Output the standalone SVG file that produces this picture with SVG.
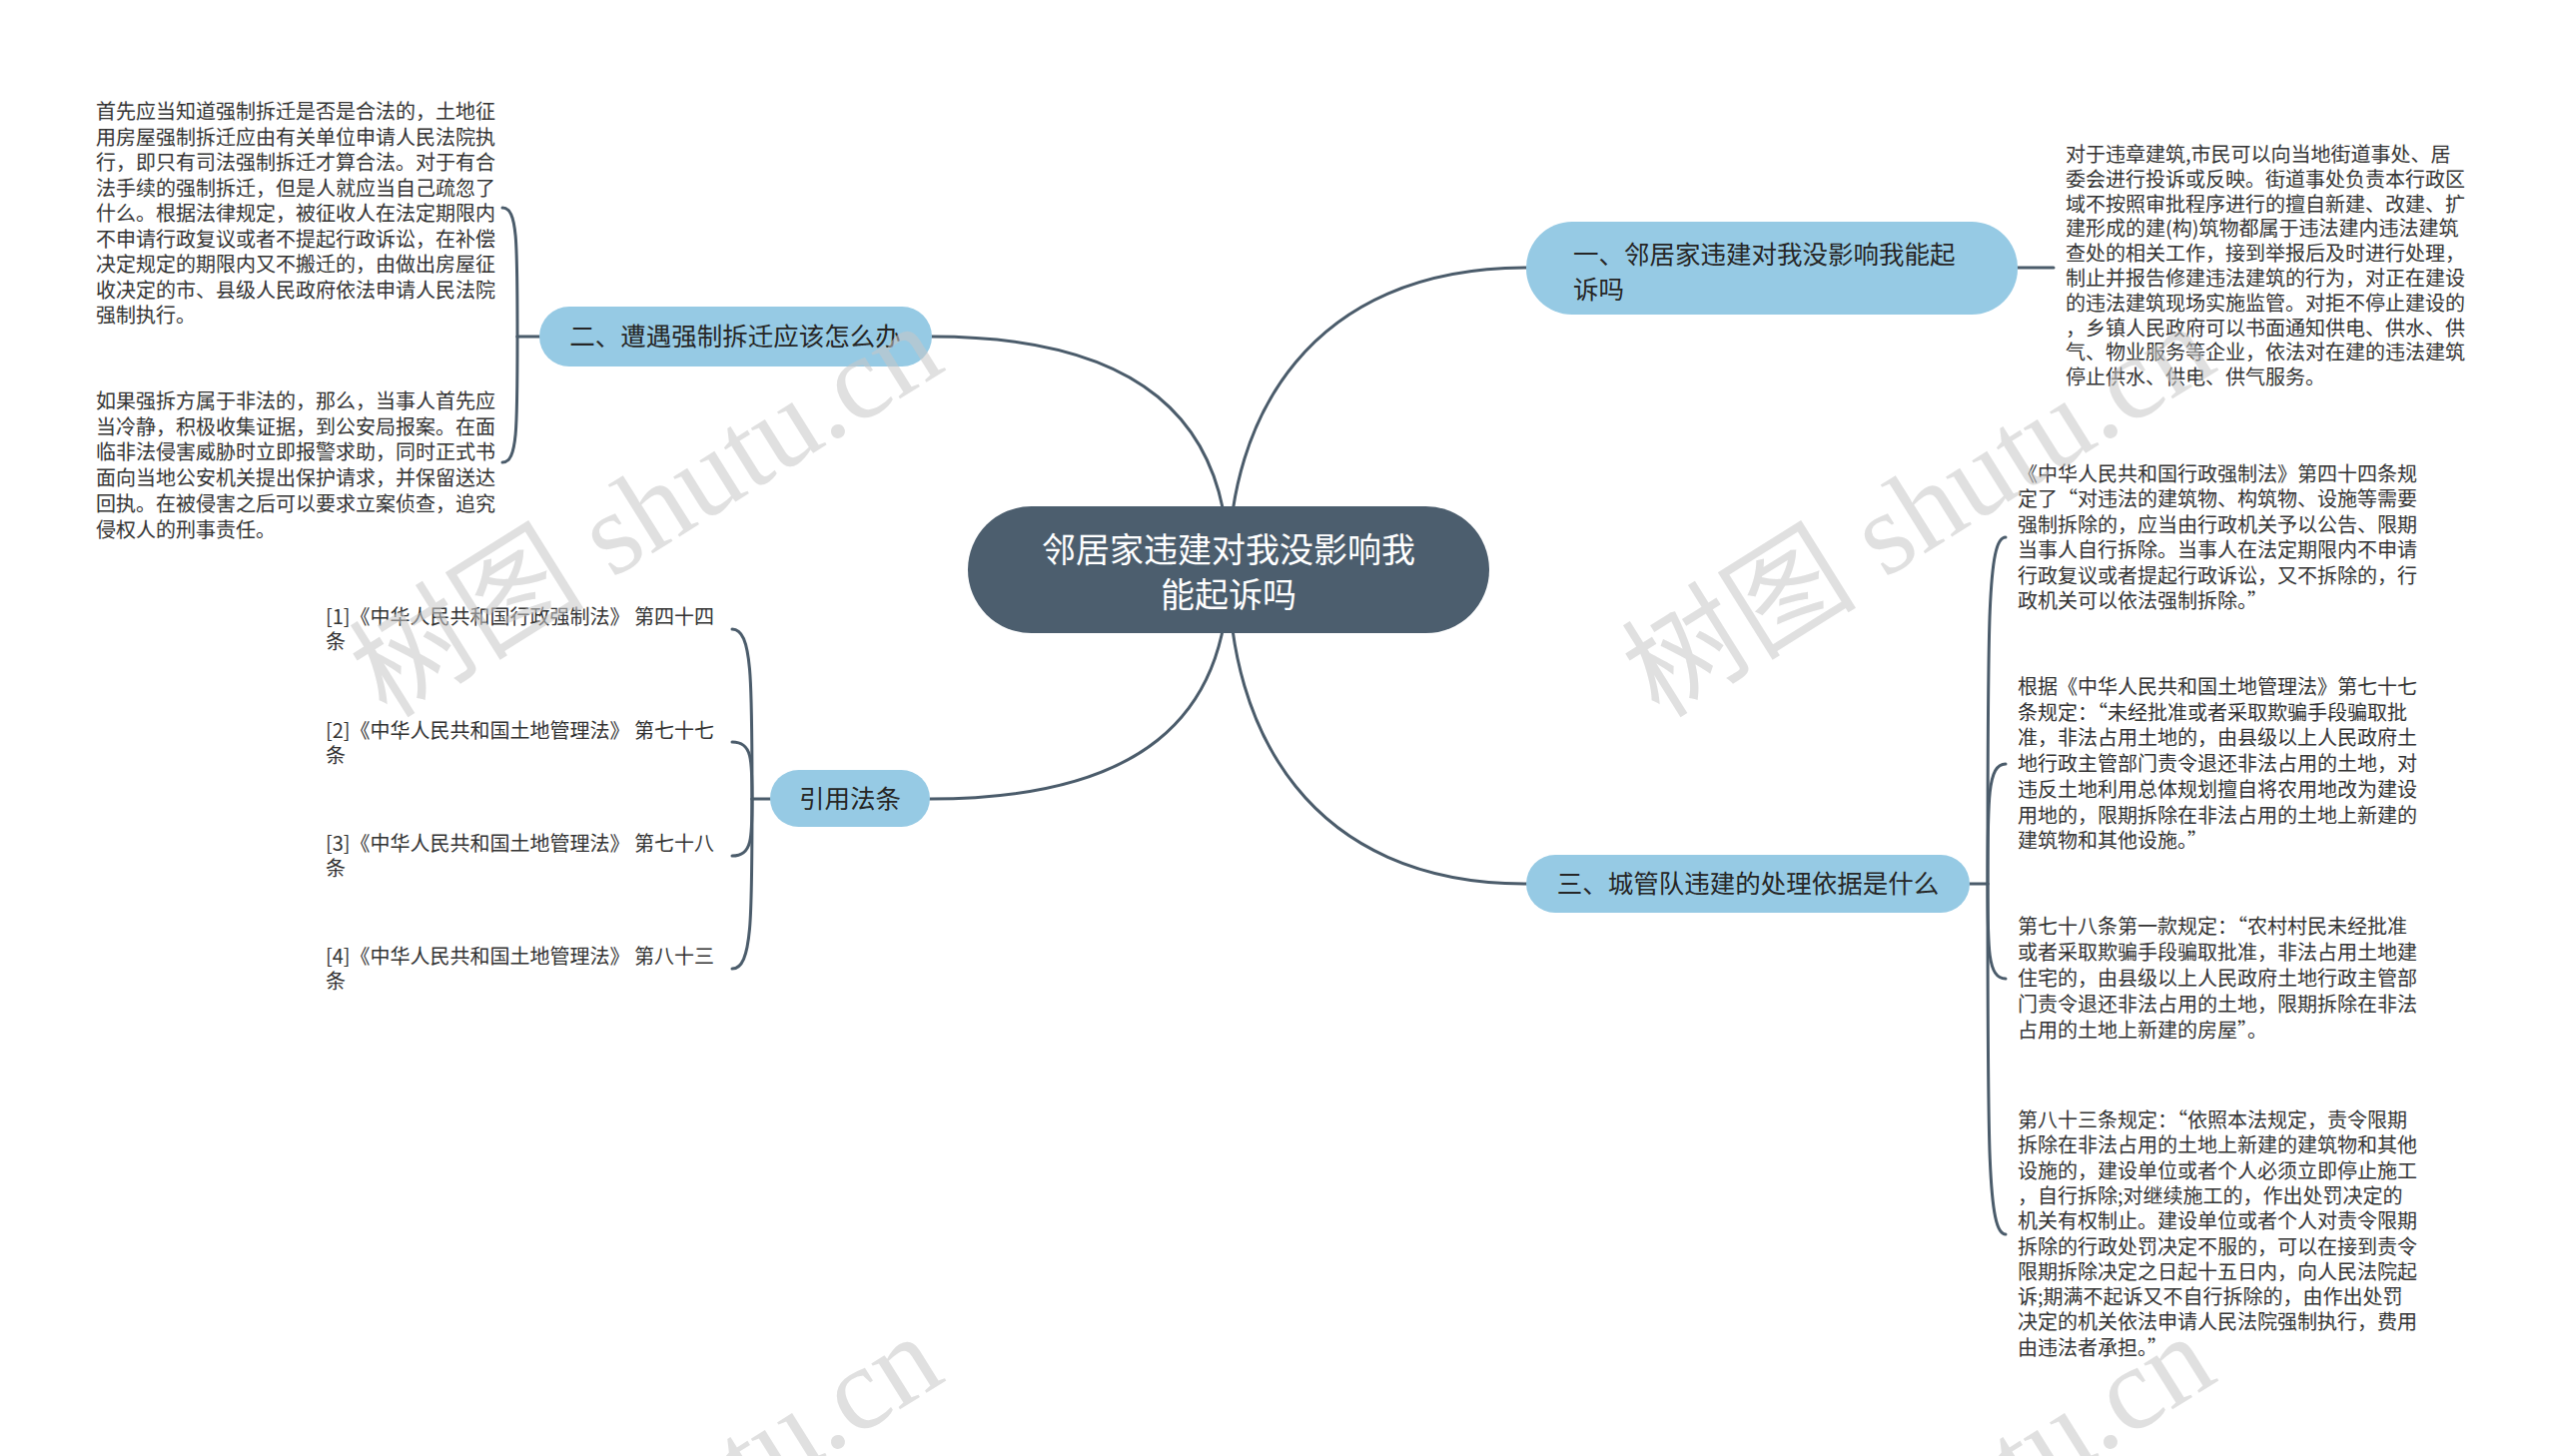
<svg xmlns="http://www.w3.org/2000/svg" width="2560" height="1458" viewBox="0 0 2560 1458">
<style>
.bg{fill:#ffffff}
.edge{fill:none;stroke:#4b5c6b;stroke-width:3;stroke-linecap:round}
.root{fill:#4c5e6e}
.sub{fill:#96cae4}
.rt{font-family:"Noto Sans CJK SC","Noto Sans",sans-serif;font-size:34px;fill:#ffffff;text-anchor:middle}
.st{font-family:"Noto Sans CJK SC","Noto Sans",sans-serif;font-size:25.5px;fill:#262626}
.stc{text-anchor:middle}
.bt{font-family:"Noto Sans CJK SC","Noto Sans",sans-serif;font-size:20px;fill:#333333}
.wm{font-family:"Liberation Serif","Noto Sans CJK SC",serif;font-size:118px;fill:#c8c8c8;opacity:0.55}
</style>
<rect class="bg" x="0" y="0" width="2560" height="1458"/>

<g id="connectors">
  <path class="edge" d="M933,337 C1140,337 1230,420 1230,570"/>
  <path class="edge" d="M1528,268 C1310,268 1230,420 1230,570"/>
  <path class="edge" d="M931,800 C1140,800 1230,720 1230,570"/>
  <path class="edge" d="M1528,885 C1310,885 1230,730 1230,570"/>
  <!-- 二 children -->
  <path class="edge" d="M540,337 L518,337"/>
  <path class="edge" d="M518,337 C518,240 518,208 503,208"/>
  <path class="edge" d="M518,337 C518,430 518,463 503,463"/>
  <!-- 一 child -->
  <path class="edge" d="M2020,268 L2056,268"/>
  <!-- 引用法条 children -->
  <path class="edge" d="M771,800 L753,800"/>
  <path class="edge" d="M753,800 C753,680 753,630 733,630"/>
  <path class="edge" d="M753,800 C753,760 753,743 733,743"/>
  <path class="edge" d="M753,800 C753,840 753,857 733,857"/>
  <path class="edge" d="M753,800 C753,920 753,970 733,970"/>
  <!-- 三 children -->
  <path class="edge" d="M1972,885 L1990,885"/>
  <path class="edge" d="M1990,885 C1990,620 1990,538 2008,538"/>
  <path class="edge" d="M1990,885 C1990,800 1990,765 2008,765"/>
  <path class="edge" d="M1990,885 C1990,950 1990,980 2008,980"/>
  <path class="edge" d="M1990,885 C1990,1150 1990,1236 2008,1236"/>
</g>

<g id="root">
  <rect class="root" x="969" y="507" width="522" height="127" rx="63.5"/>
  <text class="rt" x="1230" y="563">邻居家违建对我没影响我</text>
  <text class="rt" x="1230" y="608">能起诉吗</text>
</g>

<g id="node-1">
  <rect class="sub" x="1528" y="222" width="492" height="93" rx="46"/>
  <text class="st" x="1575" y="264">一、邻居家违建对我没影响我能起</text>
  <text class="st" x="1575" y="299">诉吗</text>
</g>

<g id="node-2">
  <rect class="sub" x="540" y="307" width="393" height="60" rx="30"/>
  <text class="st stc" x="736" y="346">二、遭遇强制拆迁应该怎么办</text>
</g>

<g id="node-3">
  <rect class="sub" x="1528" y="856" width="444" height="58" rx="29"/>
  <text class="st stc" x="1750" y="894">三、城管队违建的处理依据是什么</text>
</g>

<g id="node-cite">
  <rect class="sub" x="771" y="771" width="160" height="57" rx="28.5"/>
  <text class="st stc" x="851" y="809">引用法条</text>
</g>

<g id="text-2a" class="bt">
  <text x="96" y="119">首先应当知道强制拆迁是否是合法的，土地征</text>
  <text x="96" y="144.5">用房屋强制拆迁应由有关单位申请人民法院执</text>
  <text x="96" y="170">行，即只有司法强制拆迁才算合法。对于有合</text>
  <text x="96" y="195.5">法手续的强制拆迁，但是人就应当自己疏忽了</text>
  <text x="96" y="221">什么。根据法律规定，被征收人在法定期限内</text>
  <text x="96" y="246.5">不申请行政复议或者不提起行政诉讼，在补偿</text>
  <text x="96" y="272">决定规定的期限内又不搬迁的，由做出房屋征</text>
  <text x="96" y="297.5">收决定的市、县级人民政府依法申请人民法院</text>
  <text x="96" y="323">强制执行。</text>
</g>

<g id="text-2b" class="bt">
  <text x="96" y="409">如果强拆方属于非法的，那么，当事人首先应</text>
  <text x="96" y="434.7">当冷静，积极收集证据，到公安局报案。在面</text>
  <text x="96" y="460.4">临非法侵害威胁时立即报警求助，同时正式书</text>
  <text x="96" y="486.1">面向当地公安机关提出保护请求，并保留送达</text>
  <text x="96" y="511.8">回执。在被侵害之后可以要求立案侦查，追究</text>
  <text x="96" y="537.5">侵权人的刑事责任。</text>
</g>

<g id="text-1" class="bt">
  <text x="2068" y="162">对于违章建筑,市民可以向当地街道事处、居</text>
  <text x="2068" y="186.8">委会进行投诉或反映。街道事处负责本行政区</text>
  <text x="2068" y="211.6">域不按照审批程序进行的擅自新建、改建、扩</text>
  <text x="2068" y="236.4">建形成的建(构)筑物都属于违法建内违法建筑</text>
  <text x="2068" y="261.2">查处的相关工作，接到举报后及时进行处理，</text>
  <text x="2068" y="286">制止并报告修建违法建筑的行为，对正在建设</text>
  <text x="2068" y="310.8">的违法建筑现场实施监管。对拒不停止建设的</text>
  <text x="2068" y="335.6">，乡镇人民政府可以书面通知供电、供水、供</text>
  <text x="2068" y="360.4">气、物业服务等企业，依法对在建的违法建筑</text>
  <text x="2068" y="385.2">停止供水、供电、供气服务。</text>
</g>

<g id="text-3a" class="bt">
  <text x="2020" y="482">《中华人民共和国行政强制法》第四十四条规</text>
  <text x="2020" y="507.4">定了“对违法的建筑物、构筑物、设施等需要</text>
  <text x="2020" y="532.8">强制拆除的，应当由行政机关予以公告、限期</text>
  <text x="2020" y="558.2">当事人自行拆除。当事人在法定期限内不申请</text>
  <text x="2020" y="583.6">行政复议或者提起行政诉讼，又不拆除的，行</text>
  <text x="2020" y="609">政机关可以依法强制拆除。”</text>
</g>

<g id="text-3b" class="bt">
  <text x="2020" y="695">根据《中华人民共和国土地管理法》第七十七</text>
  <text x="2020" y="720.7">条规定：“未经批准或者采取欺骗手段骗取批</text>
  <text x="2020" y="746.4">准，非法占用土地的，由县级以上人民政府土</text>
  <text x="2020" y="772.1">地行政主管部门责令退还非法占用的土地，对</text>
  <text x="2020" y="797.8">违反土地利用总体规划擅自将农用地改为建设</text>
  <text x="2020" y="823.5">用地的，限期拆除在非法占用的土地上新建的</text>
  <text x="2020" y="849.2">建筑物和其他设施。”</text>
</g>

<g id="text-3c" class="bt">
  <text x="2020" y="935">第七十八条第一款规定：“农村村民未经批准</text>
  <text x="2020" y="961">或者采取欺骗手段骗取批准，非法占用土地建</text>
  <text x="2020" y="987">住宅的，由县级以上人民政府土地行政主管部</text>
  <text x="2020" y="1013">门责令退还非法占用的土地，限期拆除在非法</text>
  <text x="2020" y="1039">占用的土地上新建的房屋”。</text>
</g>

<g id="text-3d" class="bt">
  <text x="2020" y="1129">第八十三条规定：“依照本法规定，责令限期</text>
  <text x="2020" y="1154.3">拆除在非法占用的土地上新建的建筑物和其他</text>
  <text x="2020" y="1179.6">设施的，建设单位或者个人必须立即停止施工</text>
  <text x="2020" y="1204.9">，自行拆除;对继续施工的，作出处罚决定的</text>
  <text x="2020" y="1230.2">机关有权制止。建设单位或者个人对责令限期</text>
  <text x="2020" y="1255.5">拆除的行政处罚决定不服的，可以在接到责令</text>
  <text x="2020" y="1280.8">限期拆除决定之日起十五日内，向人民法院起</text>
  <text x="2020" y="1306.1">诉;期满不起诉又不自行拆除的，由作出处罚</text>
  <text x="2020" y="1331.4">决定的机关依法申请人民法院强制执行，费用</text>
  <text x="2020" y="1356.7">由违法者承担。”</text>
</g>

<g id="cite-1" class="bt">
  <text x="326" y="625">[1]《中华人民共和国行政强制法》 第四十四</text>
  <text x="326" y="650">条</text>
</g>
<g id="cite-2" class="bt">
  <text x="326" y="739">[2]《中华人民共和国土地管理法》 第七十七</text>
  <text x="326" y="764">条</text>
</g>
<g id="cite-3" class="bt">
  <text x="326" y="852">[3]《中华人民共和国土地管理法》 第七十八</text>
  <text x="326" y="877">条</text>
</g>
<g id="cite-4" class="bt">
  <text x="326" y="965">[4]《中华人民共和国土地管理法》 第八十三</text>
  <text x="326" y="990">条</text>
</g>

<g id="watermarks">
  <text class="wm" text-anchor="middle" transform="translate(668,545) rotate(-32)">树图 shutu.cn</text>
  <text class="wm" text-anchor="middle" transform="translate(1942,545) rotate(-32)">树图 shutu.cn</text>
  <text class="wm" text-anchor="middle" transform="translate(668,1557) rotate(-32)">树图 shutu.cn</text>
  <text class="wm" text-anchor="middle" transform="translate(1942,1557) rotate(-32)">树图 shutu.cn</text>
</g>
</svg>
